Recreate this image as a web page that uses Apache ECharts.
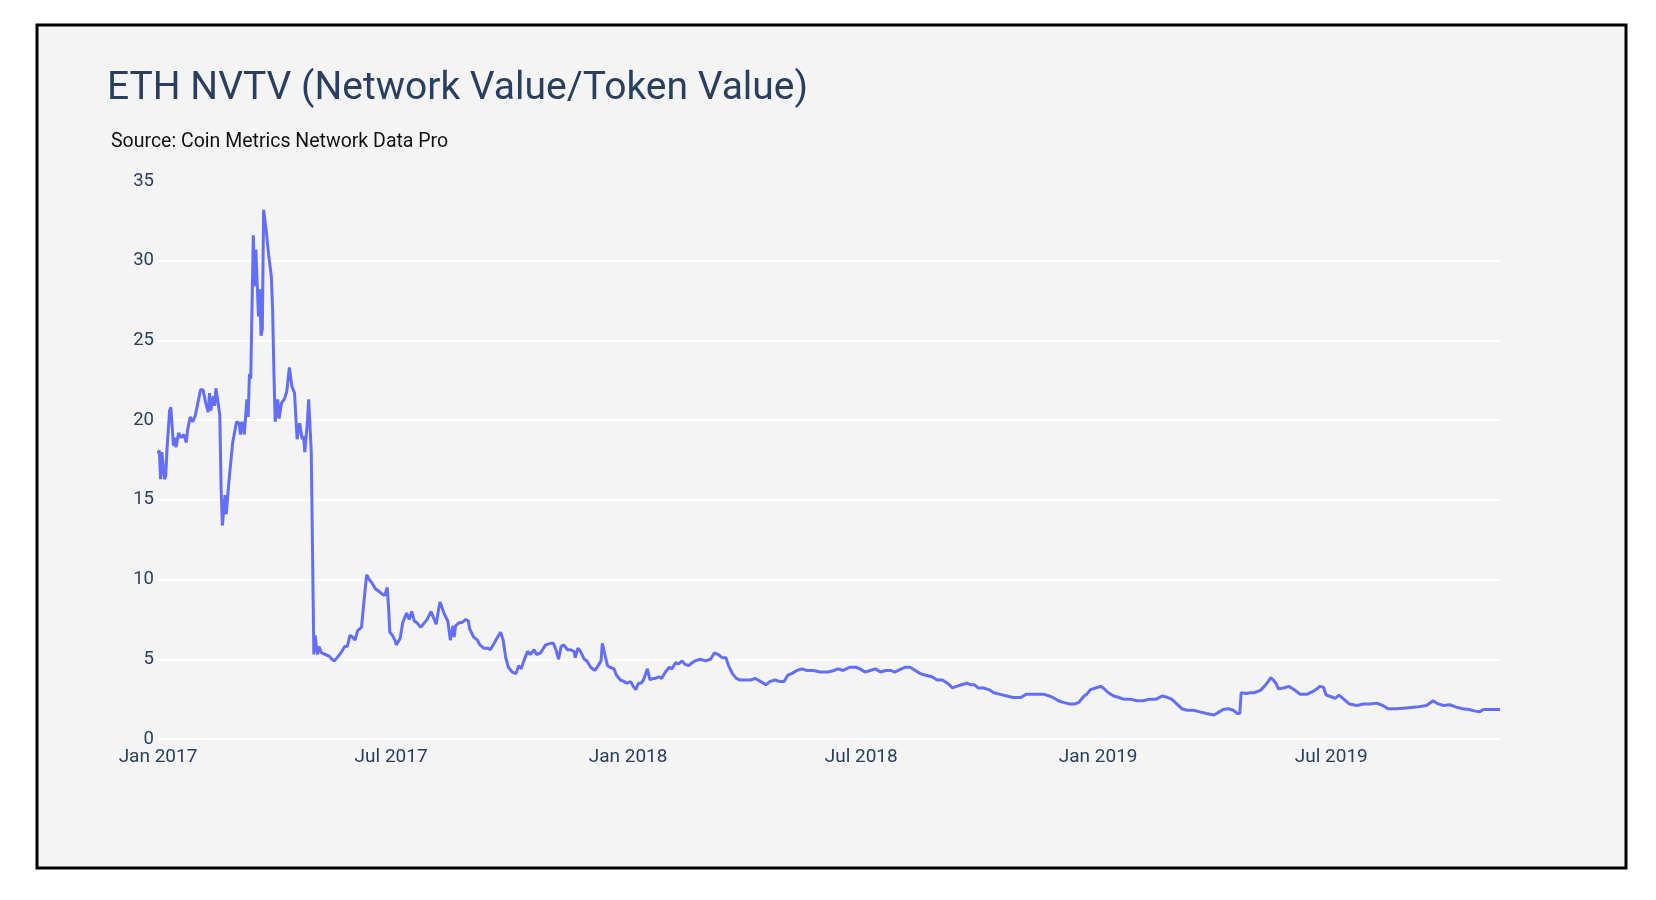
<!DOCTYPE html>
<html>
<head>
<meta charset="utf-8">
<script src="https://cdn.jsdelivr.net/npm/echarts@6/dist/echarts.min.js"></script>
<style>
html,body{margin:0;padding:0;background:#ffffff;}
#chart{width:1656px;height:900px;}
</style>
</head>
<body>
<div id="chart"></div>
<script>
const titleText = 'ETH NVTV (Network Value/Token Value)';
const subtitleText = 'Source: Coin Metrics Network Data Pro';

const xTickDates = ['2017-01-01','2017-07-01','2018-01-01','2018-07-01','2019-01-01','2019-07-01'];
const xTickLabels = ['Jan 2017','Jul 2017','Jan 2018','Jul 2018','Jan 2019','Jul 2019'];
const xStart = '2017-01-01';
const xEnd = '2019-11-09';
const yMin = 0, yMax = 35, yStep = 5;

const dates = [
'2017-01-01','2017-01-02','2017-01-03','2017-01-04','2017-01-06','2017-01-07','2017-01-08','2017-01-10','2017-01-11','2017-01-13',
'2017-01-14','2017-01-15','2017-01-17','2017-01-19','2017-01-21','2017-01-23','2017-01-24','2017-01-26','2017-01-28','2017-01-30',
'2017-02-03','2017-02-05','2017-02-07','2017-02-09','2017-02-10','2017-02-11','2017-02-13','2017-02-14','2017-02-15','2017-02-17',
'2017-02-18','2017-02-19','2017-02-20','2017-02-22','2017-02-23','2017-02-25','2017-02-28','2017-03-03','2017-03-05','2017-03-06',
'2017-03-07','2017-03-09','2017-03-11','2017-03-12','2017-03-13','2017-03-14','2017-03-16','2017-03-17','2017-03-18','2017-03-20',
'2017-03-21','2017-03-22','2017-03-23','2017-03-24','2017-03-26','2017-03-28','2017-03-30','2017-03-31','2017-04-01','2017-04-02',
'2017-04-04','2017-04-05','2017-04-07','2017-04-09','2017-04-11','2017-04-13','2017-04-15','2017-04-17','2017-04-19','2017-04-21',
'2017-04-23','2017-04-24','2017-04-25','2017-04-27','2017-04-28','2017-04-30','2017-05-01','2017-05-02','2017-05-03','2017-05-04',
'2017-05-05','2017-05-06','2017-05-08','2017-05-11','2017-05-14','2017-05-16','2017-05-18','2017-05-21','2017-05-23','2017-05-26',
'2017-05-28','2017-05-30','2017-06-01','2017-06-03','2017-06-05','2017-06-08','2017-06-10','2017-06-12','2017-06-14','2017-06-16',
'2017-06-19','2017-06-21','2017-06-24','2017-06-26','2017-06-28','2017-06-29','2017-06-30','2017-07-02','2017-07-04','2017-07-05',
'2017-07-08','2017-07-10','2017-07-13','2017-07-15','2017-07-16','2017-07-17','2017-07-19','2017-07-21','2017-07-24','2017-07-27',
'2017-07-29','2017-08-01','2017-08-03','2017-08-05','2017-08-07','2017-08-08','2017-08-11','2017-08-14','2017-08-16','2017-08-18',
'2017-08-19','2017-08-20','2017-08-23','2017-08-25','2017-08-28','2017-08-30','2017-08-31','2017-09-03','2017-09-06','2017-09-08',
'2017-09-11','2017-09-14','2017-09-16','2017-09-19','2017-09-21','2017-09-24','2017-09-26','2017-09-28','2017-09-30','2017-10-03',
'2017-10-06','2017-10-08','2017-10-10','2017-10-12','2017-10-15','2017-10-17','2017-10-20','2017-10-22','2017-10-25','2017-10-29',
'2017-11-02','2017-11-04','2017-11-06','2017-11-08','2017-11-10','2017-11-12','2017-11-15','2017-11-17','2017-11-20','2017-11-21',
'2017-11-23','2017-11-25','2017-11-28','2017-11-30','2017-12-03','2017-12-06','2017-12-08','2017-12-11','2017-12-12','2017-12-14',
'2017-12-16','2017-12-18','2017-12-21','2017-12-23','2017-12-26','2017-12-29','2017-12-31','2018-01-03','2018-01-05','2018-01-07',
'2018-01-09','2018-01-11','2018-01-13','2018-01-16','2018-01-18','2018-01-20','2018-01-22','2018-01-25','2018-01-27','2018-01-30',
'2018-02-02','2018-02-04','2018-02-07','2018-02-09','2018-02-12','2018-02-14','2018-02-17','2018-02-20','2018-02-22','2018-02-26',
'2018-03-02','2018-03-06','2018-03-09','2018-03-12','2018-03-15','2018-03-18','2018-03-20','2018-03-23','2018-03-26','2018-03-29',
'2018-04-02','2018-04-06','2018-04-10','2018-04-14','2018-04-18','2018-04-21','2018-04-25','2018-04-29','2018-05-02','2018-05-05',
'2018-05-08','2018-05-12','2018-05-16','2018-05-20','2018-05-25','2018-05-30','2018-06-05','2018-06-10','2018-06-13','2018-06-17',
'2018-06-22','2018-06-27','2018-06-30','2018-07-04','2018-07-08','2018-07-12','2018-07-16','2018-07-20','2018-07-24','2018-07-27',
'2018-07-31','2018-08-04','2018-08-08','2018-08-12','2018-08-16','2018-08-20','2018-08-25','2018-08-29','2018-09-02','2018-09-06',
'2018-09-10','2018-09-13','2018-09-17','2018-09-21','2018-09-24','2018-09-27','2018-09-30','2018-10-04','2018-10-08','2018-10-12',
'2018-10-17','2018-10-22','2018-10-27','2018-11-02','2018-11-06','2018-11-09','2018-11-14','2018-11-20','2018-11-24','2018-11-27',
'2018-12-01','2018-12-05','2018-12-10','2018-12-14','2018-12-17','2018-12-21','2018-12-23','2018-12-26','2018-12-30','2019-01-03',
'2019-01-05','2019-01-09','2019-01-13','2019-01-17','2019-01-21','2019-01-26','2019-01-31','2019-02-05','2019-02-10','2019-02-15',
'2019-02-20','2019-02-24','2019-02-27','2019-03-03','2019-03-07','2019-03-11','2019-03-16','2019-03-21','2019-03-26','2019-04-01',
'2019-04-05','2019-04-08','2019-04-12','2019-04-16','2019-04-19','2019-04-21','2019-04-22','2019-04-26','2019-04-29','2019-05-02',
'2019-05-07','2019-05-10','2019-05-13','2019-05-15','2019-05-17','2019-05-19','2019-05-21','2019-05-25','2019-05-29','2019-06-02',
'2019-06-07','2019-06-12','2019-06-16','2019-06-20','2019-06-22','2019-06-25','2019-06-27','2019-07-01','2019-07-04','2019-07-07',
'2019-07-10','2019-07-15','2019-07-21','2019-07-26','2019-07-31','2019-08-05','2019-08-10','2019-08-14','2019-08-21','2019-08-28',
'2019-09-05','2019-09-13','2019-09-18','2019-09-22','2019-09-26','2019-10-01','2019-10-06','2019-10-11','2019-10-16','2019-10-21',
'2019-10-24','2019-10-27','2019-11-01','2019-11-05','2019-11-09'
];

const values = [
17.9,18.1,16.3,18.0,16.3,16.5,18.2,20.6,20.8,18.4,
18.9,18.3,19.2,18.9,19.1,18.6,19.4,20.2,19.9,20.3,
21.9,21.9,21.1,20.5,21.7,20.6,21.5,20.9,22.0,20.9,
20.3,15.7,13.4,15.3,14.1,16.1,18.6,19.9,19.8,19.1,
19.9,19.1,21.3,20.2,22.9,22.6,31.6,28.4,30.7,26.5,
28.2,25.3,25.7,33.2,31.9,30.3,29.0,26.9,23.0,19.9,
21.3,20.1,21.1,21.3,21.8,23.3,22.1,21.7,18.8,19.8,
18.8,19.0,18.0,19.9,21.3,18.0,17.9,5.3,6.5,5.8,
5.3,5.8,5.4,5.3,5.2,5.0,4.9,5.2,5.4,5.8,
5.8,6.5,6.4,6.2,6.8,7.0,8.7,10.3,10.0,9.8,
9.4,9.3,9.1,9.0,9.5,8.3,6.7,6.5,6.2,5.9,
6.3,7.3,7.9,7.5,7.6,8.0,7.4,7.3,7.0,7.3,
7.5,8.0,7.6,7.2,8.2,8.6,7.9,7.4,6.2,7.1,
6.4,7.1,7.3,7.3,7.5,7.4,6.9,6.4,6.2,5.9,
5.7,5.7,5.6,6.0,6.3,6.7,6.2,5.1,4.5,4.2,
4.1,4.6,4.4,4.9,5.5,5.3,5.6,5.3,5.4,5.9,
6.0,6.0,5.6,5.0,5.8,5.9,5.6,5.6,5.5,5.1,
5.7,5.5,5.0,4.9,4.5,4.3,4.5,4.9,6.0,5.3,
4.6,4.5,4.4,4.0,3.7,3.6,3.5,3.6,3.3,3.1,
3.5,3.5,3.7,4.4,3.7,3.8,3.8,3.9,3.8,4.2,
4.5,4.4,4.8,4.7,4.9,4.7,4.6,4.8,4.9,5.0,
4.9,5.0,5.4,5.3,5.1,5.1,4.6,4.1,3.8,3.7,
3.7,3.7,3.8,3.6,3.4,3.6,3.7,3.6,3.6,4.0,
4.1,4.3,4.4,4.3,4.3,4.2,4.2,4.3,4.4,4.3,
4.5,4.5,4.4,4.2,4.3,4.4,4.2,4.3,4.3,4.2,
4.35,4.5,4.5,4.3,4.1,4.0,3.9,3.7,3.7,3.5,
3.2,3.3,3.4,3.5,3.4,3.4,3.2,3.2,3.1,2.9,
2.8,2.7,2.6,2.6,2.8,2.8,2.8,2.8,2.7,2.6,
2.4,2.3,2.2,2.2,2.3,2.7,2.8,3.1,3.2,3.3,
3.2,2.9,2.7,2.6,2.5,2.5,2.4,2.4,2.5,2.5,
2.7,2.6,2.5,2.2,1.9,1.8,1.8,1.7,1.6,1.5,
1.7,1.85,1.9,1.8,1.6,1.6,2.9,2.85,2.9,2.9,
3.05,3.3,3.6,3.85,3.7,3.5,3.15,3.2,3.3,3.1,
2.8,2.8,2.95,3.15,3.3,3.25,2.75,2.65,2.55,2.75,
2.55,2.2,2.1,2.2,2.2,2.25,2.1,1.9,1.9,1.95,
2.0,2.1,2.4,2.2,2.1,2.15,2.0,1.9,1.85,1.75,
1.7,1.85,1.85,1.85,1.85
];

function toTime(s) {
  const p = s.split('-').map(Number);
  return Date.UTC(p[0], p[1] - 1, p[2]);
}
const seriesData = dates.map((d, i) => [toTime(d), values[i]]);
const xTickTimes = xTickDates.map(toTime);

const chart = echarts.init(document.getElementById('chart'), null, {renderer: 'canvas'});
chart.setOption({
  backgroundColor: '#ffffff',
  animation: false,
  graphic: [{
    type: 'rect',
    z: -10,
    silent: true,
    shape: {x: 37, y: 25, width: 1589, height: 843},
    style: {fill: '#f4f4f4', stroke: '#000000', lineWidth: 3}
  }],
  title: [{
    text: titleText,
    left: 107,
    top: 70,
    padding: 0,
    textStyle: {fontFamily: 'Roboto', fontSize: 39, fontWeight: 'normal', color: '#2a3f5f'}
  }, {
    text: subtitleText,
    left: 111,
    top: 132,
    padding: 0,
    textStyle: {fontFamily: 'Roboto', fontSize: 19.5, fontWeight: 'normal', color: '#111111'}
  }],
  grid: {left: 158, right: 156, top: 181, bottom: 161, containLabel: false},
  xAxis: {
    type: 'value',
    min: toTime(xStart),
    max: toTime(xEnd),
    axisLine: {show: false},
    axisTick: {show: false},
    splitLine: {show: false},
    axisLabel: {
      customValues: xTickTimes,
      margin: 9,
      fontFamily: 'Roboto',
      fontSize: 19,
      color: '#2a3f5f',
      formatter: function (val) {
        const i = xTickTimes.indexOf(val);
        return i >= 0 ? xTickLabels[i] : '';
      }
    }
  },
  yAxis: {
    type: 'value',
    min: yMin,
    max: yMax,
    interval: yStep,
    axisLine: {show: false},
    axisTick: {show: false},
    axisLabel: {margin: 4, fontFamily: 'Roboto', fontSize: 18.5, color: '#2a3f5f'},
    splitLine: {show: true, showMaxLine: false, lineStyle: {color: '#ffffff', width: 2}}
  },
  series: [{
    type: 'line',
    data: seriesData,
    showSymbol: false,
    symbol: 'none',
    lineStyle: {color: '#636efa', width: 3},
    itemStyle: {color: '#636efa'}
  }]
});
</script>
</body>
</html>
